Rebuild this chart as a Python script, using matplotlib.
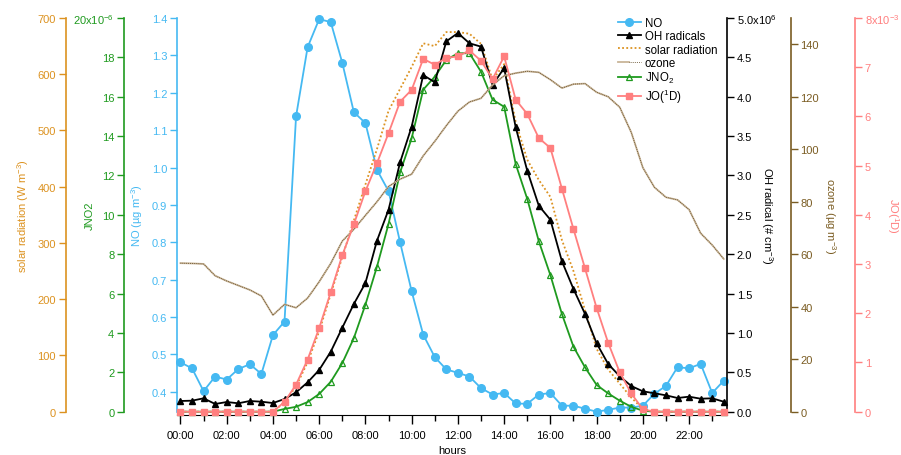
import numpy as np
import matplotlib
matplotlib.use('Agg')
import matplotlib.pyplot as plt
from matplotlib.legend_handler import HandlerTuple

plt.rcParams['font.family'] = 'Liberation Sans'
plt.rcParams['mathtext.fontset'] = 'custom'
plt.rcParams['mathtext.rm'] = 'Liberation Sans'
plt.rcParams['mathtext.it'] = 'Liberation Sans:italic'
plt.rcParams['font.size'] = 8

# half-hourly diurnal means, 00:00 .. 23:30
hours = np.arange(0, 24, 0.5)

no = [0.479, 0.463, 0.402, 0.441, 0.433, 0.461, 0.474, 0.448, 0.552, 0.588,
      1.137, 1.322, 1.397, 1.389, 1.280, 1.148, 1.119, 0.994, 0.937, 0.800,
      0.669, 0.553, 0.493, 0.460, 0.451, 0.441, 0.410, 0.393, 0.397, 0.369,
      0.368, 0.393, 0.397, 0.363, 0.363, 0.355, 0.347, 0.352, 0.358, 0.358,
      0.363, 0.395, 0.416, 0.466, 0.463, 0.475, 0.397, 0.430]

# OH in 1e6 molecules cm-3
oh = [0.136, 0.140, 0.170, 0.098, 0.123, 0.107, 0.136, 0.127, 0.110, 0.161,
      0.246, 0.373, 0.530, 0.762, 1.067, 1.368, 1.634, 2.172, 2.565, 3.167,
      3.620, 4.276, 4.183, 4.704, 4.809, 4.679, 4.636, 4.149, 4.365, 3.612,
      3.061, 2.616, 2.438, 1.910, 1.558, 1.241, 0.869, 0.606, 0.450, 0.326,
      0.259, 0.234, 0.208, 0.174, 0.191, 0.165, 0.170, 0.127]

solar = [0, 0, 0, 0, 0, 0, 0, 0, 0, 17,
         45, 88, 143, 209, 275, 340, 404, 467, 535, 574,
         613, 655, 650, 675, 675, 672, 654, 590, 618, 515,
         448, 412, 382, 305, 250, 180, 112, 75, 50, 25,
         5, 0, 0, 0, 0, 0, 0, 0]

ozone = [56.6, 56.5, 56.3, 51.8, 49.8, 48.1, 46.4, 44.1, 36.8, 40.9,
         39.6, 43.3, 49.5, 56.5, 65.0, 69.5, 74.8, 80.0, 85.8, 88.6,
         90.5, 97.5, 103.0, 109.0, 114.5, 118.0, 119.4, 124.5, 128.0, 129.0,
         129.7, 129.3, 126.5, 123.3, 124.8, 125.0, 121.7, 120.0, 116.0, 106.4,
         93.0, 85.5, 81.7, 80.7, 77.0, 68.0, 63.5, 58.2]

# JNO2 in 1e-6 s-1
jno2 = [0, 0, 0, 0, 0, 0, 0, 0, 0, 0.14,
        0.25, 0.49, 0.90, 1.52, 2.47, 3.74, 5.44, 7.37, 9.54, 12.16,
        13.89, 16.36, 17.02, 17.87, 18.21, 18.21, 17.27, 15.85, 15.49, 12.58,
        10.81, 8.66, 6.94, 4.96, 3.30, 2.25, 1.36, 0.93, 0.56, 0.25,
        0.05, 0, 0, 0, 0, 0, 0, 0]

# JO(1D) in 1e-3 s-1
jo1d = [0, 0, 0, 0, 0, 0, 0, 0, 0, 0.20,
        0.55, 1.06, 1.70, 2.43, 3.18, 3.81, 4.48, 5.05, 5.66, 6.30,
        6.54, 7.17, 7.05, 7.19, 7.22, 7.34, 7.13, 6.76, 7.22, 6.34,
        6.05, 5.56, 5.36, 4.53, 3.71, 2.91, 2.11, 1.40, 0.80, 0.37,
        0.05, 0, 0, 0, 0, 0, 0, 0]

hour_ticks = np.arange(0, 24, 2)
hour_labels = ['%02d:00' % h for h in hour_ticks]

c_no = '#45b9f2'
c_oh = 'black'
c_solar = '#dc9220'
c_o3 = '#7a5c22'
c_jno2 = '#1f9a1f'
c_jo = '#ff7f7f'

fig = plt.figure(figsize=(9.01, 4.56), dpi=100)
ax = fig.add_axes([177 / 901, 1 - 412.7 / 456, 550 / 901, 393.7 / 456])


def style_axis(a, side, pos, color):
    for s in a.spines.values():
        s.set_visible(False)
    sp = a.spines[side]
    sp.set_visible(True)
    sp.set_position(('axes', pos))
    sp.set_color(color)
    sp.set_linewidth(1.2)
    a.yaxis.set_ticks_position(side)
    a.yaxis.set_label_position(side)
    a.tick_params(axis='y', direction='out', length=5, width=1,
                  color=color, labelcolor=color, pad=2, labelsize=8)


# NO on the host axes
style_axis(ax, 'left', 0.0, c_no)
ax.spines['bottom'].set_visible(True)
ax.spines['bottom'].set_position(('outward', 2.5))
ax.plot(hours, no, color=c_no, lw=1.3, marker='o', ms=5.5, zorder=3, clip_on=False)
ax.set_ylim(0.347, 1.4)
ax.set_yticks(np.arange(0.4, 1.41, 0.1))
ax.set_ylabel(r'NO (µg m$^{-3}$)', color=c_no, fontsize=8, va='center')
ax.yaxis.set_label_coords(-0.073, 0.5)

ax.set_xlim(-0.15, 23.64)
ax.set_xticks(hour_ticks, hour_labels)
ax.set_xticks(np.arange(0, 24, 1), minor=True)
ax.tick_params(axis='x', which='major', direction='out', length=6.5, width=1, pad=4.5, labelsize=8)
ax.tick_params(axis='x', which='minor', direction='out', length=4, width=1)
ax.set_xlabel('hours', fontsize=8, labelpad=3)

# solar radiation, far left
ax_sr = ax.twinx()
style_axis(ax_sr, 'left', (65.7 - 177) / 550, c_solar)
l_sr, = ax_sr.plot(hours, solar, color=c_solar, lw=1.3, ls=(0, (1, 1.3)), clip_on=False)
ax_sr.set_ylim(0, 700)
ax_sr.set_yticks(np.arange(0, 701, 100))
ax_sr.set_ylabel(r'solar radiation (W m$^{-3}$)', color=c_solar, fontsize=8, va='center')
ax_sr.yaxis.set_label_coords((23 - 177) / 550, 0.5)

# JNO2
ax_j2 = ax.twinx()
style_axis(ax_j2, 'left', (124 - 177) / 550, c_jno2)
l_j2, = ax_j2.plot(hours, jno2, color=c_jno2, lw=1.3, marker='^', ms=5,
                   mfc='none', mec=c_jno2, mew=0.9, clip_on=False)
ax_j2.set_ylim(0, 20)
j2_ticks = np.arange(0, 21, 2)
ax_j2.set_yticks(j2_ticks, [str(t) for t in j2_ticks[:-1]] + [r'20x10$^{-6}$'])
ax_j2.set_ylabel('JNO2', color=c_jno2, fontsize=8, va='center')
ax_j2.yaxis.set_label_coords((90 - 177) / 550, 0.5)

# OH radical, first right axis
ax_oh = ax.twinx()
style_axis(ax_oh, 'right', 1.0, c_oh)
l_oh, = ax_oh.plot(hours, oh, color=c_oh, lw=1.3, marker='^', ms=4, clip_on=False)
ax_oh.set_ylim(0, 5)
oh_ticks = np.arange(0, 5.01, 0.5)
ax_oh.set_yticks(oh_ticks, ['%.1f' % t for t in oh_ticks[:-1]] + [r'5.0x10$^{6}$'])
ax_oh.set_ylabel(r'OH radical (# cm$^{-3}$)', color=c_oh, fontsize=8,
                 rotation=-90, va='center')
ax_oh.yaxis.set_label_coords((766.7 - 177) / 550, 0.5)

# ozone: pale line with fine dark dots on top
ax_o3 = ax.twinx()
style_axis(ax_o3, 'right', (790.7 - 177) / 550, c_o3)
l_o3a, = ax_o3.plot(hours, ozone, color='#c9b598', lw=1.3)
l_o3b, = ax_o3.plot(hours, ozone, color='#5c4620', lw=0.6, ls=(0, (1, 1.3)))
ax_o3.set_ylim(0, 150)
ax_o3.set_yticks(np.arange(0, 141, 20))
ax_o3.set_ylabel(r'ozone (µg m$^{-3}$)', color=c_o3, fontsize=8,
                 rotation=-90, va='center')
ax_o3.yaxis.set_label_coords((830 - 177) / 550, 0.5)

# JO(1D), outermost right
ax_jo = ax.twinx()
style_axis(ax_jo, 'right', (855 - 177) / 550, c_jo)
l_jo, = ax_jo.plot(hours, jo1d, color=c_jo, lw=1.3, marker='s', ms=4, clip_on=False)
ax_jo.set_ylim(0, 8)
jo_ticks = np.arange(0, 9, 1)
ax_jo.set_yticks(jo_ticks, [str(t) for t in jo_ticks[:-1]] + [r'8x10$^{-3}$'])
ax_jo.set_ylabel(r'JO($^{1}$D)', color=c_jo, fontsize=8, rotation=-90, va='center')
ax_jo.yaxis.set_label_coords((893 - 177) / 550, 0.5)

l_no = ax.lines[0]
fig.legend([l_no, l_oh, l_sr, (l_o3a, l_o3b), l_j2, l_jo],
           ['NO', 'OH radicals', 'solar radiation', 'ozone', r'JNO$_2$', r'JO($^{1}$D)'],
           handler_map={tuple: HandlerTuple(ndivide=None, pad=0)},
           loc='upper left', bbox_to_anchor=(612 / 901, 1 - 12 / 456),
           frameon=False, fontsize=8.3, handlelength=2.0, handletextpad=0.35,
           labelspacing=0.12, borderpad=0)

fig.savefig('out.png', dpi=100)
